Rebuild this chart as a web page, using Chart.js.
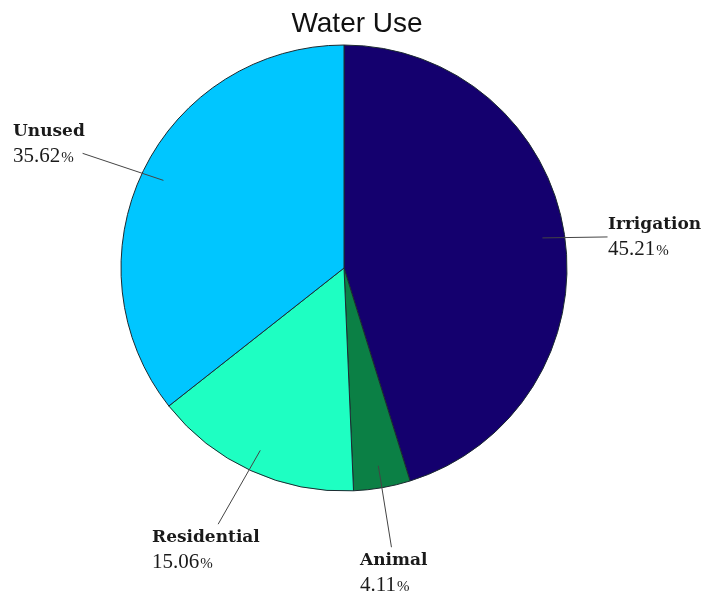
<!DOCTYPE html>
<html>
<head>
<meta charset="utf-8">
<title>Water Use</title>
<script src="https://cdn.jsdelivr.net/npm/chart.js@4"></script>
<style>
  html, body { margin: 0; padding: 0; background: #fff; }
  canvas { display: block; }
</style>
</head>
<body>
<canvas id="chart" width="704" height="592"></canvas>
<script>
const categories = ["Irrigation", "Animal", "Residential", "Unused"];
const shares = [45.21, 4.11, 15.06, 35.62];
const sliceColors = ["#14006e", "#0b8045", "#1effc2", "#00c6ff"];

// callout line: how far it reaches (x radius), small turn off the slice middle (deg),
// and where the text block sits from the line end
const callouts = [
  { reach: 1.19, turn: 1.9, dx: 0, dy: -8 },
  { reach: 1.27, turn: 0.2, dx: -31, dy: 18 },
  { reach: 1.28, turn: 1.5, dx: -66, dy: 18 },
  { reach: 1.28, turn: -2.2, dx: -70, dy: -17 },
];

const calloutPlugin = {
  id: "callouts",
  afterDraw(chart) {
    const ctx = chart.ctx;
    const arcs = chart.getDatasetMeta(0).data;

    ctx.save();
    ctx.fillStyle = "#111";
    ctx.font = "28px 'Liberation Sans', Arial, sans-serif";
    ctx.textAlign = "center";
    ctx.textBaseline = "alphabetic";
    ctx.fillText("Water Use", 357, 32);

    arcs.forEach((arc, i) => {
      const { x, y, startAngle, endAngle, outerRadius } = arc.getProps(
        ["x", "y", "startAngle", "endAngle", "outerRadius"], true);
      const mid = (startAngle + endAngle) / 2;
      const c = callouts[i];
      const tip = mid + c.turn * Math.PI / 180;
      const x0 = x + Math.cos(mid) * outerRadius * 0.9;
      const y0 = y + Math.sin(mid) * outerRadius * 0.9;
      const x1 = x + Math.cos(tip) * outerRadius * c.reach;
      const y1 = y + Math.sin(tip) * outerRadius * c.reach;

      ctx.strokeStyle = "#444";
      ctx.lineWidth = 1;
      ctx.beginPath();
      ctx.moveTo(x0, y0);
      ctx.lineTo(x1, y1);
      ctx.stroke();

      const tx = Math.round(x1 + c.dx);
      const ty = Math.round(y1 + c.dy);
      ctx.textAlign = "left";
      ctx.fillStyle = "#1a1a1a";
      ctx.font = "bold 17px 'DejaVu Serif', serif";
      ctx.fillText(categories[i], tx, ty);

      const num = shares[i].toFixed(2);
      ctx.font = "21px 'Liberation Serif', 'Times New Roman', serif";
      ctx.fillText(num, tx, ty + 26);
      const w = ctx.measureText(num).width;
      ctx.font = "15px 'Liberation Serif', 'Times New Roman', serif";
      ctx.fillText("%", tx + w + 1, ty + 26);
    });
    ctx.restore();
  },
};

new Chart(document.getElementById("chart"), {
  type: "pie",
  data: {
    labels: categories,
    datasets: [{
      data: shares,
      backgroundColor: sliceColors,
      borderColor: "#1c2a30",
      borderWidth: 1,
      radius: 223,
    }],
  },
  options: {
    responsive: false,
    animation: false,
    layout: { padding: { left: 121, right: 137, top: 45, bottom: 101 } },
    plugins: {
      legend: { display: false },
      title: { display: false },
      tooltip: { enabled: false },
    },
  },
  plugins: [calloutPlugin],
});
</script>
</body>
</html>
